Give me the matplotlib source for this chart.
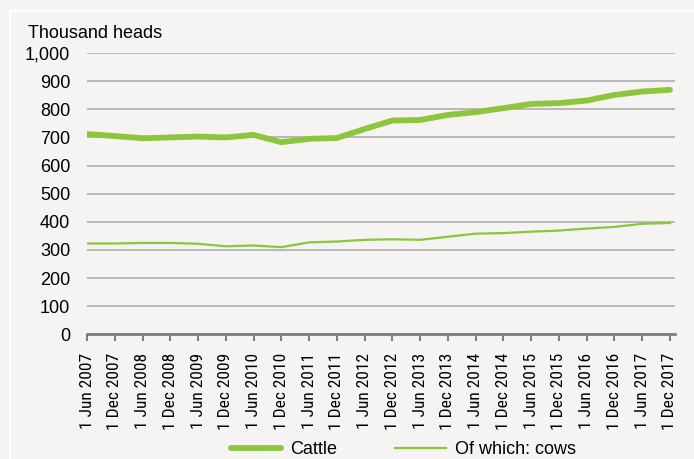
import numpy as np
import matplotlib.pyplot as plt
import matplotlib.patches as patches

# Half-yearly stock, thousand heads
dates = ["1 Jun 2007", "1 Dec 2007", "1 Jun 2008", "1 Dec 2008", "1 Jun 2009",
         "1 Dec 2009", "1 Jun 2010", "1 Dec 2010", "1 Jun 2011", "1 Dec 2011",
         "1 Jun 2012", "1 Dec 2012", "1 Jun 2013", "1 Dec 2013", "1 Jun 2014",
         "1 Dec 2014", "1 Jun 2015", "1 Dec 2015", "1 Jun 2016", "1 Dec 2016",
         "1 Jun 2017", "1 Dec 2017"]
cattle = [712, 705, 697, 700, 703, 700, 709, 683, 695, 698,
          730, 760, 762, 780, 790, 804, 819, 822, 831, 851, 863, 869]
cows = [323, 323, 325, 325, 322, 313, 316, 310, 327, 330,
        336, 338, 336, 347, 358, 360, 365, 369, 376, 382, 393, 396]
yticks = [0, 100, 200, 300, 400, 500, 600, 700, 800, 900, 1000]

green = "#8cc63f"
bg = "#f5f4f2"
font = ["Liberation Sans", "DejaVu Sans"]
narrow = ["Roboto Condensed", "Archivo Narrow", "DejaVu Sans"]

fig = plt.figure(figsize=(6.94, 4.59), dpi=100, facecolor=bg)
ax = fig.add_axes([0.1254, 0.2715, 0.9726 - 0.1254, 0.8845 - 0.2715])
ax.set_facecolor(bg)

# white frame inset
fig.patches.append(patches.Rectangle((10 / 694, -0.1), 1.2, 1 - 10.5 / 459 + 0.1,
                                     transform=fig.transFigure, fill=False,
                                     edgecolor="white", linewidth=1.5, zorder=0))

x = np.arange(len(dates))
ax.plot(x, cattle, color=green, linewidth=4.2, solid_capstyle="round",
        label="Cattle", zorder=3)
ax.plot(x, cows, color=green, linewidth=1.6, label="Of which: cows", zorder=3)

ax.set_xlim(0, 21.18)
ax.set_ylim(0, 1000)
ax.set_yticks(yticks)
ax.set_yticklabels([f"{v:,}" for v in yticks], fontsize=13, family=font)
ax.set_xticks(x)
ax.set_xticklabels(dates, rotation=90, fontsize=12.5, family=narrow)

ax.grid(axis="y", color="#b8b8b8", linewidth=1.4)
ax.set_axisbelow(True)
for s in ["top", "right", "left"]:
    ax.spines[s].set_visible(False)
ax.spines["bottom"].set_color("#7f7f7f")
ax.spines["bottom"].set_linewidth(2)
ax.spines["bottom"].set_zorder(4)
ax.tick_params(axis="y", length=0, pad=12)
ax.tick_params(axis="x", length=5, width=1.5, color="#7f7f7f", pad=8.5)

fig.text(28 / 694, 1 - 38 / 459, "Thousand heads", fontsize=13, family=font,
         va="baseline", ha="left")

fig.legend(loc="center", bbox_to_anchor=(0.581, 1 - 450 / 459), ncol=2,
           frameon=False, prop={"family": font, "size": 13},
           handlelength=2.8, handletextpad=0.5, columnspacing=3.2)

fig.savefig("out.png", dpi=100, facecolor=bg)
